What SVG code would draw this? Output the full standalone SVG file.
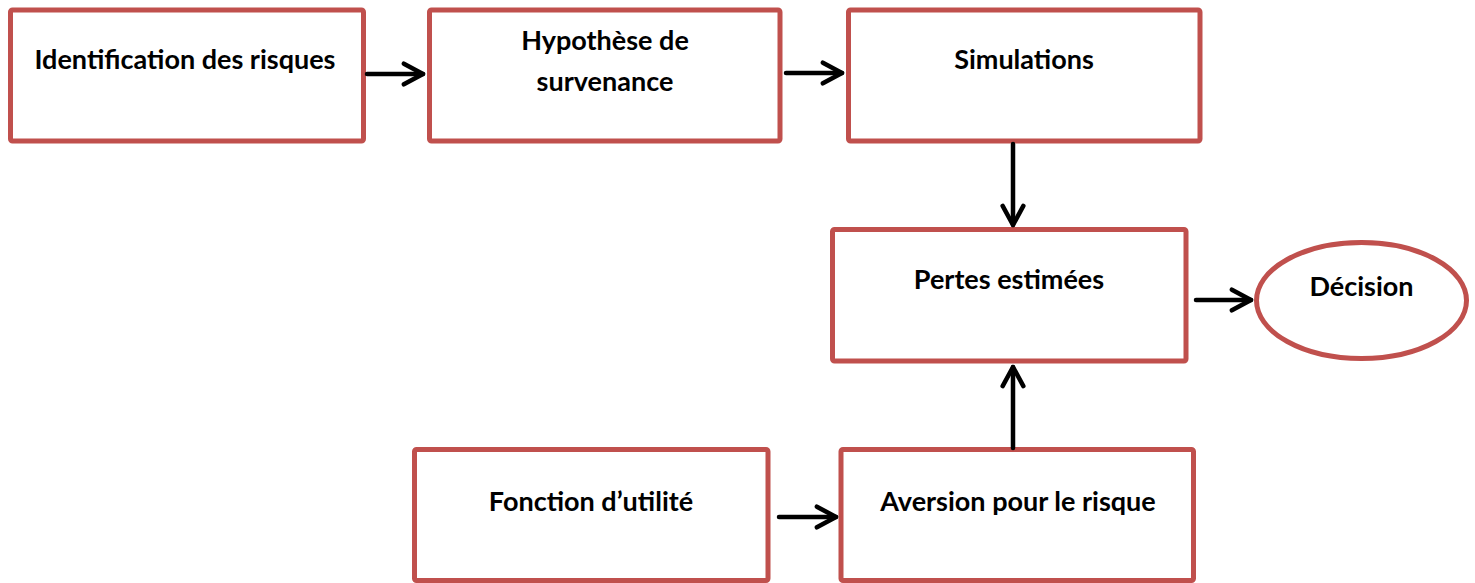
<svg xmlns="http://www.w3.org/2000/svg" width="1475" height="583" viewBox="0 0 1475 583">
  <style>
    .box { fill: #ffffff; stroke: #c0504d; stroke-width: 5; }
    .lbl { font-family: Lato, "Open Sans", "Liberation Sans", sans-serif; font-weight: bold; font-size: 27px; fill: #000000; text-anchor: middle; }
    .link { fill: none; stroke: #000000; stroke-width: 4.5; stroke-linecap: round; stroke-linejoin: round; }
  </style>
  <defs>
    <!-- open chevron head, same weight as the shaft -->
    <marker id="arrow" viewBox="0 0 12 12" refX="10" refY="6" markerWidth="6" markerHeight="6" markerUnits="strokeWidth" orient="auto">
      <path d="M1.5,1.4 L10,6 L1.5,10.6" fill="none" stroke="#000000" stroke-width="2" stroke-linecap="round" stroke-linejoin="round"/>
    </marker>
  </defs>
  <rect width="1475" height="583" fill="#ffffff"/>

  <g id="identification">
    <rect class="box" x="10.5" y="10" width="353" height="131" rx="2"/>
    <text class="lbl" x="185" y="69">Identification des risques</text>
  </g>
  <g id="hypothese">
    <rect class="box" x="429.5" y="10" width="350.5" height="131" rx="2"/>
    <text class="lbl" x="605" y="50">Hypothèse de</text>
    <text class="lbl" x="605" y="91">survenance</text>
  </g>
  <g id="simulations">
    <rect class="box" x="848.5" y="10" width="351.5" height="131" rx="2"/>
    <text class="lbl" x="1024" y="69">Simulations</text>
  </g>
  <g id="pertes">
    <rect class="box" x="832.5" y="229.5" width="353.5" height="131.5" rx="2"/>
    <text class="lbl" x="1009" y="289">Pertes estimées</text>
  </g>
  <g id="decision">
    <ellipse class="box" cx="1361.5" cy="300.5" rx="105" ry="58"/>
    <text class="lbl" x="1361.5" y="296">Décision</text>
  </g>
  <g id="fonction">
    <rect class="box" x="414.5" y="449.5" width="353.5" height="131" rx="2"/>
    <text class="lbl" x="591" y="511">Fonction d’utilité</text>
  </g>
  <g id="aversion">
    <rect class="box" x="841" y="449.5" width="352.5" height="131" rx="2"/>
    <text class="lbl" x="1018" y="511">Aversion pour le risque</text>
  </g>

  <g id="connectors">
    <line class="link" x1="367" y1="74" x2="423" y2="74" marker-end="url(#arrow)"/>
    <line class="link" x1="786" y1="73" x2="842" y2="73" marker-end="url(#arrow)"/>
    <line class="link" x1="1013" y1="144" x2="1013" y2="225" marker-end="url(#arrow)"/>
    <line class="link" x1="1196" y1="300" x2="1251" y2="300" marker-end="url(#arrow)"/>
    <line class="link" x1="1013" y1="448" x2="1013" y2="367" marker-end="url(#arrow)"/>
    <line class="link" x1="779" y1="517" x2="836" y2="517" marker-end="url(#arrow)"/>
  </g>
</svg>
